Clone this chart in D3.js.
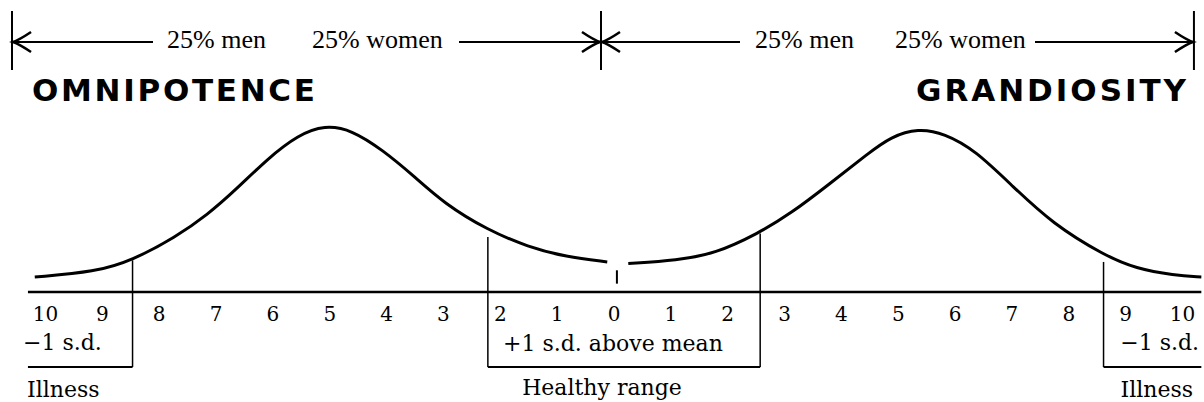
<!DOCTYPE html>
<html>
<head>
<meta charset="utf-8">
<script src="https://cdn.jsdelivr.net/npm/d3@7"></script>
<style>
  body { margin: 0; background: #fff; }
</style>
</head>
<body>
<div class="chart_container"></div>
<script>
// scale positions: -10..0 is the omnipotence side, 0..10 the grandiosity side
const tickPositions = [-10, -9, -8, -7, -6, -5, -4, -3, -2, -1, 0, 1, 2, 3, 4, 5, 6, 7, 8, 9, 10];
const tickLabels = ["10", "9", "8", "7", "6", "5", "4", "3", "2", "1", "0", "1", "2", "3", "4", "5", "6", "7", "8", "9", "10"];

// bell curves: [position, relative height]
const omnipotenceX = [-10.18, -9.11, -8.46, -7.70, -7.15, -6.62, -6.08, -5.55, -5.08, -4.60, -4.06, -3.53, -2.98, -2.21, -1.50, -0.84, -0.11];
const omnipotenceY = [0.09, 0.12, 0.19, 0.33, 0.46, 0.62, 0.80, 0.94, 1.00, 0.97, 0.85, 0.70, 0.53, 0.37, 0.27, 0.21, 0.18];
const grandiosityX = [0.26, 1.12, 1.79, 2.54, 3.12, 3.81, 4.48, 4.88, 5.36, 5.82, 6.36, 7.03, 7.72, 8.63, 9.19, 9.86, 10.34];
const grandiosityY = [0.17, 0.19, 0.23, 0.35, 0.47, 0.65, 0.83, 0.93, 0.98, 0.95, 0.85, 0.63, 0.41, 0.22, 0.14, 0.10, 0.09];

// range boundaries (±1 s.d.) and where they meet the curves
const boundaryX = [-8.46, -2.21, 2.58, 8.62];
const boundaryTop = [0.19, 0.33, 0.35, 0.18];
const axisExtent = [-10.30, 10.34];
const bracketX = [-10.58, -0.22, 10.21];
const meanMark = 0.06;

const titles = ["OMNIPOTENCE", "GRANDIOSITY"];
const spanLabels = ["25% men", "25% women"];
const rangeLabels = ["Illness", "Healthy range", "Illness"];

const width = 1204, height = 402;
const axisY = 292, boxBottom = 367;
const serif = "'DejaVu Serif', serif";
const times = "'Liberation Serif', serif";
const sans = "'DejaVu Sans', sans-serif";

const x = d3.scaleLinear().domain([-10, 10]).range([45, 1182]);
const y = d3.scaleLinear().domain([0, 1]).range([axisY, 125]);

const svg = d3.select("div.chart_container").append("svg")
  .attr("width", width).attr("height", height);

// top brackets with arrows
const topY = 42;
svg.selectAll("line.bar")
  .data(bracketX).enter().append("line")
  .attr("x1", d => x(d)).attr("x2", d => x(d))
  .attr("y1", 11).attr("y2", 70)
  .attr("stroke", "#000").attr("stroke-width", 2);

const arrowSegs = [
  [x(bracketX[0]), 153, -1],
  [459, x(bracketX[1]), 1],
  [x(bracketX[1]), 740, -1],
  [1035, x(bracketX[2]), 1]
];
arrowSegs.forEach(([a, b, dir]) => {
  svg.append("line").attr("x1", a).attr("x2", b).attr("y1", topY).attr("y2", topY)
    .attr("stroke", "#000").attr("stroke-width", 2);
  const tip = dir < 0 ? a + 1 : b - 1;
  const s = -dir;
  svg.append("path")
    .attr("d", `M${tip + s * 18},${topY - 10} Q${tip + s * 6},${topY - 2} ${tip},${topY} Q${tip + s * 6},${topY + 2} ${tip + s * 18},${topY + 10}`)
    .attr("fill", "none").attr("stroke", "#000").attr("stroke-width", 2.5);
});

const spanTextX = [167, 312, 755, 895];
spanTextX.forEach((tx, i) => {
  svg.append("text").attr("x", tx).attr("y", 48)
    .attr("font-family", times).attr("font-size", 26)
    .text(spanLabels[i % 2]);
});

// titles
svg.append("text").attr("x", 32).attr("y", 101)
  .attr("font-family", sans).attr("font-weight", "bold").attr("font-size", 31)
  .attr("textLength", 283).attr("lengthAdjust", "spacing")
  .text(titles[0]);
svg.append("text").attr("x", 916).attr("y", 101)
  .attr("font-family", sans).attr("font-weight", "bold").attr("font-size", 31)
  .attr("textLength", 270).attr("lengthAdjust", "spacing")
  .text(titles[1]);

// curves
const line = d3.line().x(d => x(d[0])).y(d => y(d[1])).curve(d3.curveBasis);
[[omnipotenceX, omnipotenceY], [grandiosityX, grandiosityY]].forEach(([xs, ys]) => {
  svg.append("path")
    .datum(xs.map((v, i) => [v, ys[i]]))
    .attr("d", line)
    .attr("fill", "none").attr("stroke", "#000").attr("stroke-width", 3);
});

// baseline
svg.append("line")
  .attr("x1", x(axisExtent[0])).attr("x2", x(axisExtent[1]))
  .attr("y1", axisY).attr("y2", axisY)
  .attr("stroke", "#000").attr("stroke-width", 2.5);

// mean mark
svg.append("line")
  .attr("x1", x(meanMark)).attr("x2", x(meanMark))
  .attr("y1", y(0.13)).attr("y2", y(0.05))
  .attr("stroke", "#000").attr("stroke-width", 2);

// tick labels
const axis = svg.append("g")
  .attr("transform", `translate(0,${axisY + 15})`)
  .call(d3.axisBottom(x).tickValues(tickPositions).tickFormat((d, i) => tickLabels[i]).tickSize(0).tickPadding(0));
axis.select(".domain").remove();
axis.attr("font-family", serif).attr("font-size", 20);
axis.selectAll("text").attr("fill", "#000");

// range boxes
svg.selectAll("line.edge")
  .data(boundaryX).enter().append("line")
  .attr("x1", d => x(d)).attr("x2", d => x(d))
  .attr("y1", (d, i) => y(boundaryTop[i])).attr("y2", boxBottom)
  .attr("stroke", "#000").attr("stroke-width", 1.5);

const bottoms = [
  [axisExtent[0], boundaryX[0]],
  [boundaryX[1], boundaryX[2]],
  [boundaryX[3], axisExtent[1]]
];
svg.selectAll("line.bottom")
  .data(bottoms).enter().append("line")
  .attr("x1", d => x(d[0])).attr("x2", d => x(d[1]))
  .attr("y1", boxBottom).attr("y2", boxBottom)
  .attr("stroke", "#000").attr("stroke-width", 2);

// s.d. labels
svg.append("text").attr("x", 23).attr("y", 350)
  .attr("font-family", serif).attr("font-size", 22).text("\u22121 s.d.");
svg.append("text").attr("x", 503).attr("y", 351)
  .attr("font-family", serif).attr("font-size", 22).text("+1 s.d. above mean");
svg.append("text").attr("x", 1199).attr("y", 350).attr("text-anchor", "end")
  .attr("font-family", serif).attr("font-size", 22).text("\u22121 s.d.");

// range labels
svg.append("text").attr("x", 27).attr("y", 397)
  .attr("font-family", serif).attr("font-size", 22).text(rangeLabels[0]);
svg.append("text").attr("x", 602).attr("y", 395).attr("text-anchor", "middle")
  .attr("font-family", serif).attr("font-size", 22).text(rangeLabels[1]);
svg.append("text").attr("x", 1193).attr("y", 397).attr("text-anchor", "end")
  .attr("font-family", serif).attr("font-size", 22).text(rangeLabels[2]);
</script>
</body>
</html>
